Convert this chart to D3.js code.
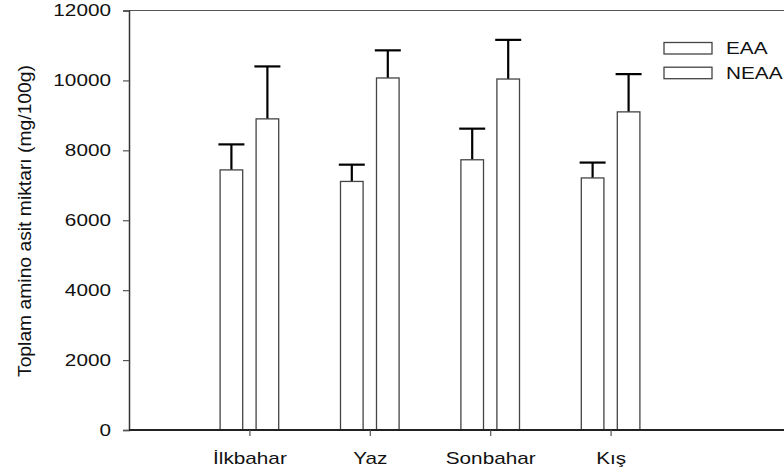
<!DOCTYPE html>
<html lang="tr">
<head>
<meta charset="utf-8">
<title>Toplam amino asit</title>
<script src="https://d3js.org/d3.v7.min.js"></script>
<style>
  body { margin: 0; background: #fff; }
  svg text { font-family: "Liberation Sans", Arial, sans-serif; fill: #111; }
</style>
</head>
<body>
<div id="chart"></div>
<script>
// data
const seasons = ["İlkbahar", "Yaz", "Sonbahar", "Kış"];
const series = ["EAA", "NEAA"];
const eaaMean = [7440, 7110, 7730, 7210];
const eaaErr = [730, 480, 890, 440];
const neaaMean = [8900, 10070, 10040, 9100];
const neaaErr = [1500, 790, 1120, 1080];
const yTicks = [0, 2000, 4000, 6000, 8000, 10000, 12000];

const width = 784, height = 474;
const plotLeft = 129, plotTop = 10.5, plotBottom = 430;
const stretch = 1.22;

const svg = d3.select("#chart").append("svg")
    .attr("width", width).attr("height", height);

const x = d3.scaleLinear().domain([0, 6]).range([plotLeft, plotLeft + 6 * 120.4]);
const inner = d3.scaleBand().domain(series).range([-29.3, 29.3]).paddingInner(0.372);
const y = d3.scaleLinear().domain([0, 12000]).range([plotBottom, plotTop]);

const rows = [];
seasons.forEach((s, i) => {
  rows.push({season: s, i: i + 1, key: "EAA", v: eaaMean[i], e: eaaErr[i]});
  rows.push({season: s, i: i + 1, key: "NEAA", v: neaaMean[i], e: neaaErr[i]});
});

// top frame line
svg.append("line")
    .attr("x1", plotLeft).attr("x2", width)
    .attr("y1", plotTop).attr("y2", plotTop)
    .attr("stroke", "#555").attr("stroke-width", 1.2);

// error bars (drawn under the bars)
const eb = svg.append("g").attr("stroke", "#000").attr("stroke-width", 2.2);
eb.selectAll("line.v").data(rows).join("line").attr("class", "v")
    .attr("x1", d => x(d.i) + inner(d.key) + inner.bandwidth() / 2)
    .attr("x2", d => x(d.i) + inner(d.key) + inner.bandwidth() / 2)
    .attr("y1", d => y(d.v)).attr("y2", d => y(d.v + d.e));
eb.selectAll("line.c").data(rows).join("line").attr("class", "c")
    .attr("x1", d => x(d.i) + inner(d.key) + inner.bandwidth() / 2 - 13)
    .attr("x2", d => x(d.i) + inner(d.key) + inner.bandwidth() / 2 + 13)
    .attr("y1", d => y(d.v + d.e)).attr("y2", d => y(d.v + d.e));

// bars
svg.append("g").selectAll("rect").data(rows).join("rect")
    .attr("x", d => x(d.i) + inner(d.key))
    .attr("y", d => y(d.v))
    .attr("width", inner.bandwidth())
    .attr("height", d => plotBottom - y(d.v))
    .attr("fill", "#fff")
    .attr("stroke", "#444").attr("stroke-width", 1.3);

// y axis
const yAxis = svg.append("g")
    .attr("transform", `translate(${plotLeft},0)`)
    .call(d3.axisLeft(y).tickValues(yTicks).tickSize(6).tickPadding(12).tickFormat(d3.format("d")));
yAxis.select(".domain").attr("stroke", "#333").attr("stroke-width", 1.5);
yAxis.selectAll(".tick line").attr("stroke", "#555").attr("stroke-width", 1.2);
yAxis.selectAll(".tick text").attr("font-size", 17).attr("class", "st");

// x axis
const xAxis = svg.append("g")
    .attr("transform", `translate(0,${plotBottom})`)
    .call(d3.axisBottom(x).tickValues([1, 2, 3, 4]).tickSize(6).tickPadding(16)
      .tickFormat(d => seasons[d - 1]));
xAxis.select(".domain").attr("d", `M${plotLeft},0H${width}`)
    .attr("stroke", "#222").attr("stroke-width", 2.2);
xAxis.selectAll(".tick line").attr("stroke", "#555").attr("stroke-width", 1.2);
xAxis.selectAll(".tick text").attr("font-size", 17).attr("class", "st");

// y label
svg.append("text")
    .attr("transform", "translate(31,221) rotate(-90)")
    .attr("text-anchor", "middle")
    .attr("font-size", 18.5)
    .attr("textLength", 312).attr("lengthAdjust", "spacingAndGlyphs")
    .text("Toplam amino asit miktarı (mg/100g)");

// legend
const lg = svg.append("g").selectAll("g").data(series).join("g")
    .attr("transform", (d, i) => `translate(664,${42.5 + i * 24.7})`);
lg.append("rect").attr("width", 48).attr("height", 11.5)
    .attr("fill", "#fff").attr("stroke", "#444").attr("stroke-width", 1.3);
lg.append("text").attr("x", 62).attr("y", 11.8)
    .attr("font-size", 17).attr("class", "st").text(d => d);

// labels in the picture look wider than plain Arial
svg.selectAll("text.st").each(function() {
  const len = this.getComputedTextLength();
  d3.select(this).attr("textLength", len * stretch).attr("lengthAdjust", "spacingAndGlyphs");
});
</script>
</body>
</html>
